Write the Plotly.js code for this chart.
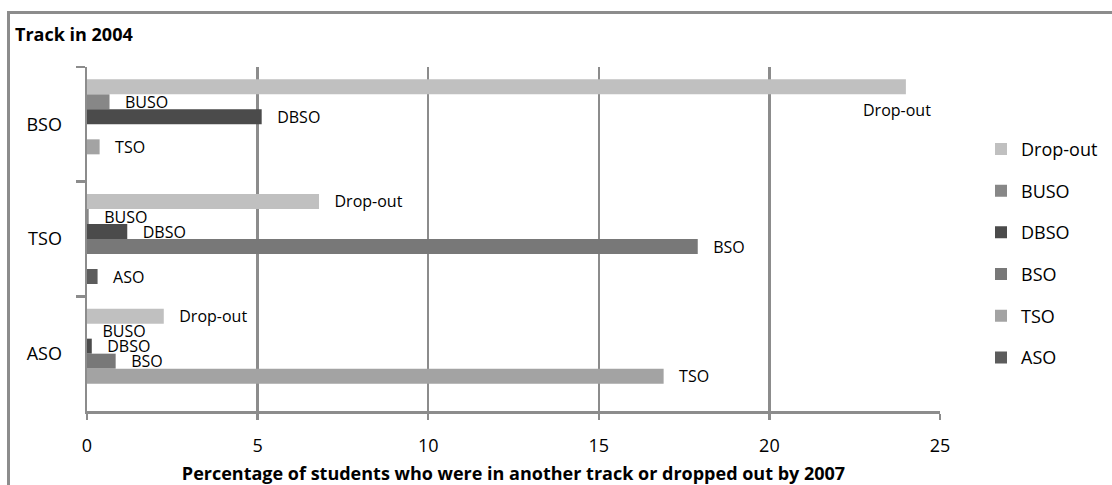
<!DOCTYPE html>
<html>
<head>
<meta charset="utf-8">
<script src="https://cdn.plot.ly/plotly-3.0.1.min.js"></script>
<style>
  html, body { margin: 0; padding: 0; background: #fff; overflow: hidden; }
  #chart { position: absolute; left: 0; top: 0; width: 1112px; height: 485px; }
  #frame { position: absolute; left: 7px; top: 11px; width: 1200px; height: 600px;
           border-left: 3px solid #8c8c8c; border-top: 3px solid #8c8c8c; pointer-events: none; }
</style>
</head>
<body>
<div id="chart"></div>
<div id="frame"></div>
<script>
// Track in 2004 (categories, top to bottom)
const categories = ['BSO', 'TSO', 'ASO'];
// Series (legend order, top to bottom inside each group)
const seriesNames = ['Drop-out', 'BUSO', 'DBSO', 'BSO', 'TSO', 'ASO'];
const dropOut = [24.0, 6.8, 2.25];
const buso    = [0.66, 0.05, 0.0];
const dbso    = [5.12, 1.18, 0.14];
const bso     = [null, 17.9, 0.84];
const tso     = [0.37, null, 16.9];
const aso     = [null, 0.31, null];
const xTicks  = [0, 5, 10, 15, 20, 25];

const seriesValues = [dropOut, buso, dbso, bso, tso, aso];
const seriesColors = ['#c0c0c0', '#878787', '#4b4b4b', '#787878', '#a3a3a3', '#5c5c5c'];
const pad = '\u00a0\u00a0\u00a0';

const traces = seriesNames.map((name, i) => {
  const vals = seriesValues[i];
  const text = vals.map((v, j) => {
    if (v === null) return '';
    // the Drop-out label of the first group sits inside the plot (annotation below)
    if (i === 0 && j === 0) return '';
    return pad + name;
  });
  return {
    type: 'bar',
    orientation: 'h',
    name: name,
    legendgroup: name,
    x: vals,
    y: categories,
    marker: { color: seriesColors[i], line: { width: 0 } },
    text: text,
    textposition: 'outside',
    constraintext: 'none',
    cliponaxis: false,
    textfont: { family: 'Open Sans', size: 16, color: '#000' },
    hoverinfo: 'x+name'
  };
});

const gridCol = '#8c8c8c';
const layout = {
  width: 1112, height: 485,
  paper_bgcolor: 'rgba(0,0,0,0)', plot_bgcolor: 'rgba(0,0,0,0)',
  font: { family: 'Open Sans', size: 18, color: '#000' },
  margin: { l: 87, r: 172, t: 67, b: 74, pad: 0, autoexpand: false },
  barmode: 'group', bargap: 0.215, bargroupgap: 0,
  title: {
    text: '<b>Track in 2004</b>',
    font: { family: 'Open Sans', size: 18, color: '#000' },
    xref: 'container', yref: 'container',
    x: 15 / 1112, xanchor: 'left',
    y: 1 - 35 / 485, yanchor: 'middle'
  },
  xaxis: {
    range: [0, 25], tickvals: xTicks, ticktext: xTicks.map(String),
    showgrid: true, gridcolor: gridCol, gridwidth: 2.5,
    zeroline: false,
    showline: true, linecolor: gridCol, linewidth: 2.5,
    ticks: 'outside', ticklen: 6, tickwidth: 2.5, tickcolor: gridCol,
    tickfont: { size: 18, color: '#000' },
    ticklabelstandoff: 11,
    automargin: true,
    title: { text: '<b>Percentage of students who were in another track or dropped out by 2007</b>',
             font: { size: 18, color: '#000' }, standoff: 16 },
    fixedrange: true
  },
  yaxis: {
    type: 'category', categoryorder: 'array', categoryarray: categories,
    autorange: 'reversed',
    showgrid: false, zeroline: false,
    showline: true, linecolor: gridCol, linewidth: 2.5,
    ticks: 'outside', tickson: 'boundaries', ticklen: 9, tickwidth: 2.5, tickcolor: gridCol,
    tickfont: { size: 18, color: '#000' },
    ticklabelstandoff: 19,
    automargin: false,
    fixedrange: true
  },
  legend: {
    xref: 'container', yref: 'container',
    x: 981 / 1112, xanchor: 'left', y: 1 - 252 / 485, yanchor: 'middle',
    traceorder: 'grouped', tracegroupgap: 15.3,
    font: { size: 18, color: '#000' },
    bgcolor: 'rgba(0,0,0,0)', itemwidth: 30
  },
  annotations: [{
    x: dropOut[0], y: categories[0], xref: 'x', yref: 'y',
    text: seriesNames[0], showarrow: false,
    xanchor: 'right', yanchor: 'middle', xshift: 27, yshift: 14,
    font: { family: 'Open Sans', size: 16, color: '#000' }
  }],
  showlegend: true
};

Plotly.newPlot('chart', traces, layout, { displayModeBar: false, staticPlot: true });
</script>
</body>
</html>
